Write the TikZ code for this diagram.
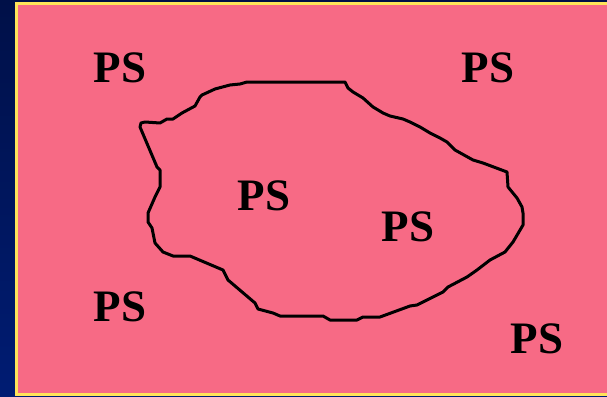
\documentclass[tikz,border=0pt]{standalone}
\usepackage{fontspec}
\setmainfont{Liberation Serif}
\definecolor{bgpink}{RGB}{247,106,133}
\definecolor{edgeyellow}{RGB}{255,228,90}
\definecolor{navytop}{RGB}{0,16,72}
\definecolor{navybot}{RGB}{0,28,115}
\begin{document}
\begin{tikzpicture}[x=1pt,y=-1pt,
  lbl/.style={font=\bfseries\fontsize{45}{45}\selectfont, text=black, inner sep=0pt},
  blob/.style={draw=black, line width=3pt, line join=round}]
\useasboundingbox (0,0) rectangle (607,396);
\clip (0,0) rectangle (607,396);
\shade[top color=navytop, bottom color=navybot] (0,0) rectangle (607,396);
\draw[fill=bgpink, draw=edgeyellow, line width=3pt] (16.5,3.5) rectangle (625,394.5);
\draw[blob] (140,127) -- (141,123) -- (145,122) -- (160,123) -- (167,119) -- (173,119) -- (182,113) -- (195,106) -- (200,97) -- (202,95) -- (215,89) -- (230,85) -- (240,84) -- (247,82) -- (345,82) -- (348,88) -- (353,92) -- (363,98) -- (373,107) -- (383,113) -- (390,116) -- (403,119) -- (410,122) -- (420,127) -- (430,133) -- (440,138) -- (447,142) -- (455,150) -- (473,160) -- (483,163) -- (507,172) -- (508,187) -- (517,198) -- (522,207) -- (523,213) -- (523,225) -- (513,242) -- (505,252) -- (490,260) -- (477,270) -- (467,277) -- (448,287) -- (443,292) -- (417,305) -- (410,306) -- (380,317) -- (363,317) -- (357,320) -- (330,320) -- (323,316) -- (280,316) -- (273,313) -- (258,309) -- (255,303) -- (228,280) -- (223,270) -- (190,256) -- (173,256) -- (163,252) -- (155,243) -- (152,228) -- (148,222) -- (148,213) -- (155,197) -- (160,187) -- (160,170) -- (157,167) -- cycle;
\node[lbl] (tl) at (120,68) {PS};
\node[lbl] (tr) at (488,68) {PS};
\node[lbl] (c1) at (264,196) {PS};
\node[lbl] (c2) at (408,227) {PS};
\node[lbl] (bl) at (120,307) {PS};
\node[lbl] (br) at (537,339) {PS};
\end{tikzpicture}
\end{document}
